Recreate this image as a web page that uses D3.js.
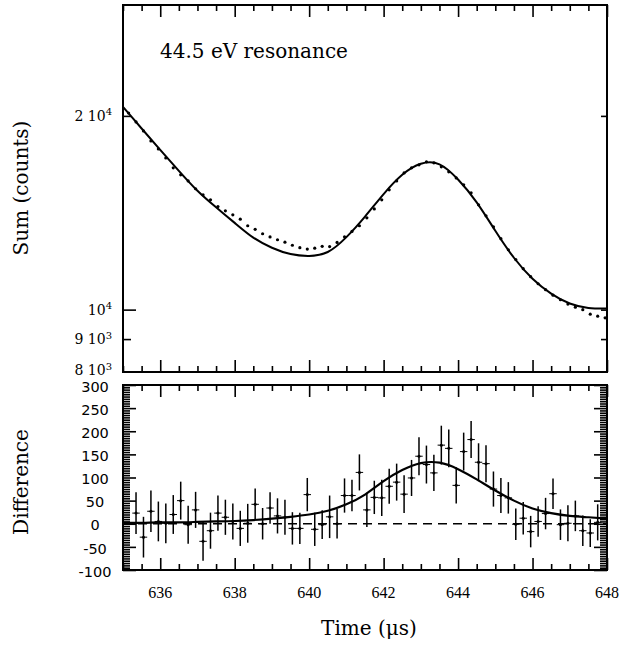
<!DOCTYPE html>
<html>
<head>
<meta charset="utf-8">
<script src="https://cdn.jsdelivr.net/npm/d3@7"></script>
<style>
    body { margin: 0; background: #fff; }
    svg { display: block; }
    .serif { font-family: "DejaVu Serif", serif; fill: #000; }
    .sans { font-family: "DejaVu Sans", sans-serif; fill: #000; }
    .axis path { display: none; }
    .axis line { stroke: #000; stroke-width: 1.6; }
</style>
</head>
<body>
<div id="chart"></div>
<script>
// summed counts, measured every 0.2 us
const sumTimes = [635.15, 635.35, 635.55, 635.75, 635.95, 636.15, 636.35, 636.55, 636.75, 636.95,
    637.15, 637.35, 637.55, 637.75, 637.95, 638.15, 638.35, 638.55, 638.75, 638.95,
    639.15, 639.35, 639.55, 639.75, 639.95, 640.15, 640.35, 640.55, 640.75, 640.95,
    641.15, 641.35, 641.55, 641.75, 641.95, 642.15, 642.35, 642.55, 642.75, 642.95,
    643.15, 643.35, 643.55, 643.75, 643.95, 644.15, 644.35, 644.55, 644.75, 644.95,
    645.15, 645.35, 645.55, 645.75, 645.95, 646.15, 646.35, 646.55, 646.75, 646.95,
    647.15, 647.35, 647.55, 647.75, 647.95];
const sumCounts = [20210, 19570, 18950, 18290, 17770, 17210, 16610, 16200, 15850, 15410,
    15080, 14810, 14460, 14240, 14040, 13820, 13500, 13330, 13120, 12970,
    12840, 12730, 12590, 12480, 12420, 12460, 12540, 12530, 12720, 12980,
    13230, 13500, 13890, 14340, 14810, 15350, 15850, 16310, 16610, 16790,
    16970, 16910, 16670, 16370, 16020, 15630, 15190, 14550, 13990, 13450,
    12890, 12390, 11960, 11580, 11250, 10970, 10740, 10530, 10360, 10200,
    10090, 10000, 9840, 9770, 9710];

// fitted curves, every 0.5 us
const fitTimes = [635, 635.5, 636, 636.5, 637, 637.5, 638, 638.5, 639, 639.5,
    640, 640.5, 641, 641.5, 642, 642.5, 643, 643.5, 644, 644.5,
    645, 645.5, 646, 646.5, 647, 647.5, 648];
const sumFit = [20650, 19120, 17710, 16430, 15300, 14420, 13640, 12940, 12480, 12200,
    12120, 12290, 12960, 13950, 15120, 16200, 16850, 16820, 15930, 14680,
    13260, 12040, 11170, 10590, 10220, 10060, 10040];
const diffFit = [2, 2, 3, 3, 4, 5, 6, 8, 11, 15,
    20, 28, 42, 63, 92, 116, 131, 132, 118, 96,
    72, 50, 33, 23, 17, 14, 11];

// difference data with errors
const diffTimes = [635.35, 635.55, 635.75, 635.95, 636.15, 636.35, 636.55, 636.75, 636.95, 637.15,
    637.35, 637.55, 637.75, 637.95, 638.15, 638.35, 638.55, 638.75, 638.95, 639.15,
    639.35, 639.55, 639.75, 639.95, 640.15, 640.35, 640.55, 640.75, 640.95, 641.15,
    641.35, 641.55, 641.75, 641.95, 642.15, 642.35, 642.55, 642.75, 642.95, 643.15,
    643.35, 643.55, 643.75, 643.95, 644.15, 644.35, 644.55, 644.75, 644.95, 645.15,
    645.35, 645.55, 645.75, 645.95, 646.15, 646.35, 646.55, 646.75, 646.95, 647.15,
    647.35, 647.55, 647.75];
const diffValues = [23, -29, 27, 5, 1, 20, 50, -2, 30, -38,
    -15, 23, 14, 5, -10, 1, 42, 0, 34, 17,
    14, -10, -10, 63, -12, -2, 15, 0, 61, 61,
    111, 30, 57, 56, 81, 90, 64, 99, 146, 128,
    110, 170, 163, 83, 156, 182, 133, 130, 75, 61,
    56, -1, 12, -17, 5, 22, 65, -2, 1, 17,
    -15, -20, 3];
const diffErrors = [45, 44, 45, 43, 43, 42, 41, 41, 39, 42,
    39, 38, 38, 39, 38, 42, 34, 34, 34, 38,
    38, 35, 34, 36, 36, 31, 46, 32, 37, 34,
    39, 37, 36, 39, 38, 40, 41, 39, 41, 41,
    39, 42, 41, 39, 41, 40, 41, 40, 38, 38,
    34, 34, 35, 34, 33, 34, 33, 33, 39, 33,
    33, 30, 39];

const timeTicks = [636, 638, 640, 642, 644, 646, 648];
const sumTicks = [8000, 9000, 10000, 20000];
const sumTickLabels = [["8 10", "3"], ["9 10", "3"], ["10", "4"], ["2 10", "4"]];
const diffTicks = [-100, -50, 0, 50, 100, 150, 200, 250, 300];

const width = 619, height = 652;
const left = 123, right = 607;
const topY0 = 5, topY1 = 372;
const botY0 = 385, botY1 = 570;

const svg = d3.select("#chart").append("svg")
    .attr("width", width)
    .attr("height", height);

const x = d3.scaleLinear().domain([635, 648]).range([left, right]);
const ySum = d3.scaleLog().domain([8000, 29740]).range([topY1, topY0]);
const yDiff = d3.scaleLinear().domain([-100, 300]).range([botY1, botY0]);

const minorTimes = d3.range(635, 648.01, 0.5).filter(t => t % 2 !== 0);

// helper for inward ticks
function ticks(g, axis) {
    g.attr("class", "axis").call(axis);
}

// ---- top panel ----
ticks(svg.append("g").attr("transform", `translate(0,${topY1})`),
    d3.axisBottom(x).tickValues(timeTicks).tickSize(-12).tickFormat(""));
ticks(svg.append("g").attr("transform", `translate(0,${topY1})`),
    d3.axisBottom(x).tickValues(minorTimes).tickSize(-6).tickFormat(""));
ticks(svg.append("g").attr("transform", `translate(0,${topY0})`),
    d3.axisTop(x).tickValues(timeTicks).tickSize(-12).tickFormat(""));
ticks(svg.append("g").attr("transform", `translate(0,${topY0})`),
    d3.axisTop(x).tickValues(minorTimes).tickSize(-6).tickFormat(""));
ticks(svg.append("g").attr("transform", `translate(${left},0)`),
    d3.axisLeft(ySum).tickValues([10000]).tickSize(-13).tickFormat(""));
ticks(svg.append("g").attr("transform", `translate(${left},0)`),
    d3.axisLeft(ySum).tickValues([9000, 20000]).tickSize(-8).tickFormat(""));
ticks(svg.append("g").attr("transform", `translate(${right},0)`),
    d3.axisRight(ySum).tickValues([9000, 10000, 20000]).tickSize(-6).tickFormat(""));

sumTicks.forEach((v, i) => {
    const t = svg.append("text")
        .attr("class", "serif")
        .attr("x", 112)
        .attr("y", ySum(v) + (v === 8000 ? 3 : 5))
        .attr("text-anchor", "end")
        .style("font-size", "14px")
        .text(sumTickLabels[i][0]);
    t.append("tspan")
        .attr("dy", "-0.55em")
        .style("font-size", "10px")
        .text(sumTickLabels[i][1]);
});

const fitLineSum = d3.line()
    .x((d, i) => x(fitTimes[i]))
    .y(d => ySum(d))
    .curve(d3.curveNatural);

svg.append("path")
    .datum(sumFit)
    .attr("d", fitLineSum)
    .attr("fill", "none")
    .attr("stroke", "#000")
    .attr("stroke-width", 2);

svg.append("g").selectAll("circle")
    .data(sumCounts)
    .enter().append("circle")
    .attr("cx", (d, i) => x(sumTimes[i]))
    .attr("cy", d => ySum(d))
    .attr("r", 1.6)
    .attr("fill", "#000");

svg.append("rect")
    .attr("x", left).attr("y", topY0)
    .attr("width", right - left).attr("height", topY1 - topY0)
    .attr("fill", "none").attr("stroke", "#000").attr("stroke-width", 2);

svg.append("text")
    .attr("class", "serif")
    .attr("x", 160)
    .attr("y", 58)
    .style("font-size", "20px")
    .text("44.5 eV resonance");

// ---- bottom panel ----
const minorDiff = d3.range(-100, 300.1, 5).filter(v => v % 50 !== 0);

ticks(svg.append("g").attr("transform", `translate(0,${botY1})`),
    d3.axisBottom(x).tickValues(timeTicks).tickSize(-12).tickFormat(""));
ticks(svg.append("g").attr("transform", `translate(0,${botY1})`),
    d3.axisBottom(x).tickValues(minorTimes).tickSize(-6).tickFormat(""));
ticks(svg.append("g").attr("transform", `translate(0,${botY0})`),
    d3.axisTop(x).tickValues(timeTicks).tickSize(-12).tickFormat(""));
ticks(svg.append("g").attr("transform", `translate(0,${botY0})`),
    d3.axisTop(x).tickValues(minorTimes).tickSize(-6).tickFormat(""));
ticks(svg.append("g").attr("transform", `translate(${left},0)`),
    d3.axisLeft(yDiff).tickValues(diffTicks).tickSize(-13).tickFormat(""));
ticks(svg.append("g").attr("transform", `translate(${left},0)`),
    d3.axisLeft(yDiff).tickValues(minorDiff).tickSize(-7).tickFormat(""));
ticks(svg.append("g").attr("transform", `translate(${right},0)`),
    d3.axisRight(yDiff).tickValues(diffTicks).tickSize(-13).tickFormat(""));
ticks(svg.append("g").attr("transform", `translate(${right},0)`),
    d3.axisRight(yDiff).tickValues(minorDiff).tickSize(-7).tickFormat(""));

svg.selectAll(".difflabel")
    .data(diffTicks)
    .enter().append("text")
    .attr("class", "sans difflabel")
    .attr("x", 95)
    .attr("y", d => yDiff(d) + 1.5)
    .attr("dy", "0.36em")
    .attr("text-anchor", "middle")
    .style("font-size", "14.5px")
    .text(d => d);

svg.append("line")
    .attr("x1", left).attr("x2", right)
    .attr("y1", yDiff(0)).attr("y2", yDiff(0))
    .attr("stroke", "#000")
    .attr("stroke-width", 1.3)
    .attr("stroke-dasharray", "9,6");

const pts = svg.append("g");
pts.selectAll(".ebar")
    .data(diffValues)
    .enter().append("line")
    .attr("x1", (d, i) => x(diffTimes[i])).attr("x2", (d, i) => x(diffTimes[i]))
    .attr("y1", (d, i) => yDiff(d - diffErrors[i]))
    .attr("y2", (d, i) => yDiff(d + diffErrors[i]))
    .attr("stroke", "#000").attr("stroke-width", 1.5);
pts.selectAll(".hbar")
    .data(diffValues)
    .enter().append("line")
    .attr("x1", (d, i) => x(diffTimes[i] - 0.1)).attr("x2", (d, i) => x(diffTimes[i] + 0.1))
    .attr("y1", d => yDiff(d)).attr("y2", d => yDiff(d))
    .attr("stroke", "#000").attr("stroke-width", 1);
pts.selectAll("circle")
    .data(diffValues)
    .enter().append("circle")
    .attr("cx", (d, i) => x(diffTimes[i]))
    .attr("cy", d => yDiff(d))
    .attr("r", 1.5)
    .attr("fill", "#000");

const fitLineDiff = d3.line()
    .x((d, i) => x(fitTimes[i]))
    .y(d => yDiff(d))
    .curve(d3.curveNatural);

svg.append("path")
    .datum(diffFit)
    .attr("d", fitLineDiff)
    .attr("fill", "none")
    .attr("stroke", "#000")
    .attr("stroke-width", 2.2);

svg.append("rect")
    .attr("x", left).attr("y", botY0)
    .attr("width", right - left).attr("height", botY1 - botY0)
    .attr("fill", "none").attr("stroke", "#000").attr("stroke-width", 2);

// x tick labels
svg.selectAll(".xlabel")
    .data(timeTicks)
    .enter().append("text")
    .attr("class", "xlabel")
    .attr("x", d => x(d))
    .attr("y", 598)
    .attr("text-anchor", "middle")
    .style("font-family", "'Liberation Serif', serif")
    .style("font-size", "16px")
    .text(d => d);

// axis titles
svg.append("text")
    .attr("class", "serif")
    .attr("transform", "translate(28,188) rotate(-90)")
    .attr("text-anchor", "middle")
    .style("font-size", "20px")
    .text("Sum (counts)");

svg.append("text")
    .attr("class", "serif")
    .attr("transform", "translate(28,482) rotate(-90)")
    .attr("text-anchor", "middle")
    .style("font-size", "20px")
    .text("Difference");

svg.append("text")
    .attr("class", "serif")
    .attr("x", 369)
    .attr("y", 635)
    .attr("text-anchor", "middle")
    .style("font-size", "20px")
    .text("Time (μs)");
</script>
</body>
</html>
